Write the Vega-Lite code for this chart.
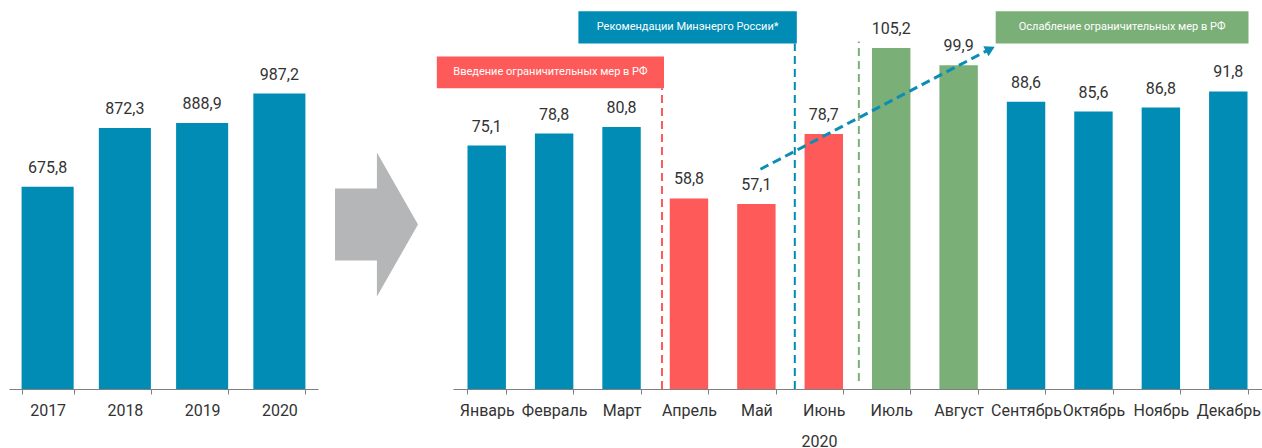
{
  "$schema": "https://vega.github.io/schema/vega-lite/v6.json",
  "padding": {"left": 9, "top": 0, "right": 0, "bottom": 0},
  "bounds": "flush",
  "spacing": 0,
  "config": {
    "view": {"stroke": null},
    "font": "Roboto, sans-serif",
    "locale": {"number": {"decimal": ",", "thousands": " ", "grouping": [3], "currency": ["", ""]}},
    "axisX": {
      "domainColor": "#808080",
      "tickColor": "#808080",
      "tickSize": 5,
      "labelFontSize": 16,
      "labelColor": "#333333",
      "labelPadding": 8,
      "labelAngle": 0,
      "tickBand": "extent",
      "grid": false,
      "titleFontSize": 16,
      "titleFontWeight": "normal",
      "titleColor": "#333333"
    }
  },
  "datasets": {
    "years": [
      {"year": "2017", "value": 675.8},
      {"year": "2018", "value": 872.3},
      {"year": "2019", "value": 888.9},
      {"year": "2020", "value": 987.2}
    ],
    "months": [
      {"month": "Январь", "value": 75.1, "group": "base"},
      {"month": "Февраль", "value": 78.8, "group": "base"},
      {"month": "Март", "value": 80.8, "group": "base"},
      {"month": "Апрель", "value": 58.8, "group": "restrict"},
      {"month": "Май", "value": 57.1, "group": "restrict"},
      {"month": "Июнь", "value": 78.7, "group": "restrict"},
      {"month": "Июль", "value": 105.2, "group": "ease"},
      {"month": "Август", "value": 99.9, "group": "ease"},
      {"month": "Сентябрь", "value": 88.6, "group": "base"},
      {"month": "Октябрь", "value": 85.6, "group": "base"},
      {"month": "Ноябрь", "value": 86.8, "group": "base"},
      {"month": "Декабрь", "value": 91.8, "group": "base"}
    ],
    "vlines": [
      {"x": 3.1, "y1": 0, "y2": 92.8, "group": "restrict"},
      {"x": 5.07, "y1": 0, "y2": 106.6, "group": "base"},
      {"x": 6.02, "y1": 2.5, "y2": 107.2, "group": "ease"}
    ],
    "boxes": [
      {"x1": -0.24, "x2": 3.13, "y1": 92.8, "y2": 102.6, "xm": 1.445, "ym": 97.7, "group": "restrict", "text": "Введение ограничительных мер в РФ"},
      {"x1": 1.86, "x2": 5.1, "y1": 106.6, "y2": 116.5, "xm": 3.48, "ym": 111.55, "group": "base", "text": "Рекомендации Минэнерго России*"},
      {"x1": 8.05, "x2": 11.8, "y1": 106.6, "y2": 116.5, "xm": 9.925, "ym": 111.55, "group": "ease", "text": "Ослабление ограничительных мер в РФ"}
    ],
    "arrow": [
      {"x": 4.56, "y": 67.8},
      {"x": 7.97, "y": 104.9}
    ],
    "arrowhead": [
      {"x": 7.97, "y": 104.9}
    ]
  },
  "hconcat": [
    {
      "width": 309,
      "height": 389,
      "data": {"name": "years"},
      "encoding": {
        "x": {"field": "year", "type": "ordinal", "scale": {"paddingInner": 0.326, "paddingOuter": 0.163}, "axis": {"title": null}},
        "y": {"field": "value", "type": "quantitative", "scale": {"domain": [0, 1300]}, "axis": null}
      },
      "layer": [
        {"mark": {"type": "bar", "color": "#008CB4"}},
        {"mark": {"type": "text", "dy": -14, "baseline": "alphabetic", "fontSize": 16, "color": "#333333"},
         "encoding": {"text": {"field": "value", "type": "quantitative", "format": ".1f"}}}
      ]
    },
    {
      "width": 135,
      "height": 389,
      "data": {"values": [{"item": "arrow"}]},
      "mark": {
        "type": "point",
        "shape": "M-1,-0.867L0.01,-0.867L0.01,-1.735L1,0L0.01,1.735L0.01,0.867L-1,0.867Z",
        "size": 6889,
        "filled": true,
        "color": "#B5B6B8",
        "opacity": 1,
        "strokeWidth": 0,
        "xOffset": -9,
        "yOffset": 30
      },
      "encoding": {}
    },
    {
      "width": 809,
      "height": 389,
      "layer": [
        {
          "data": {"name": "months"},
          "encoding": {
            "x": {"field": "month", "type": "nominal", "sort": null, "scale": {"paddingInner": 0.43, "paddingOuter": 0.215},
                  "axis": {"title": "2020", "titleX": 366, "titleY": 57, "titleBaseline": "alphabetic", "titleAnchor": null, "titleAlign": "center"}},
            "y": {"field": "value", "type": "quantitative", "scale": {"domain": [0, 120]}, "axis": null}
          },
          "layer": [
            {"mark": {"type": "bar"},
             "encoding": {"color": {"field": "group", "type": "nominal", "scale": {"domain": ["base", "restrict", "ease"], "range": ["#008CB4", "#FF5A5A", "#7BAF78"]}, "legend": null}}},
            {"mark": {"type": "text", "dy": -14, "baseline": "alphabetic", "fontSize": 16, "color": "#333333"},
             "encoding": {"text": {"field": "value", "type": "quantitative", "format": ".1f"}}}
          ]
        },
        {
          "data": {"name": "vlines"},
          "mark": {"type": "rule", "strokeDash": [8, 5], "strokeWidth": 2},
          "encoding": {
            "x": {"field": "x", "type": "quantitative", "scale": {"domain": [0, 12], "nice": false, "zero": false}, "axis": null},
            "y": {"field": "y1", "type": "quantitative", "scale": {"domain": [0, 120]}, "axis": null},
            "y2": {"field": "y2"},
            "color": {"field": "group", "type": "nominal", "scale": {"domain": ["base", "restrict", "ease"], "range": ["#008CB4", "#FF5A5A", "#7BAF78"]}, "legend": null}
          }
        },
        {
          "data": {"name": "boxes"},
          "layer": [
            {
              "mark": {"type": "rect"},
              "encoding": {
                "x": {"field": "x1", "type": "quantitative", "scale": {"domain": [0, 12], "nice": false, "zero": false}, "axis": null},
                "x2": {"field": "x2"},
                "y": {"field": "y1", "type": "quantitative", "scale": {"domain": [0, 120]}, "axis": null},
                "y2": {"field": "y2"},
                "color": {"field": "group", "type": "nominal", "scale": {"domain": ["base", "restrict", "ease"], "range": ["#008CB4", "#FF5A5A", "#7BAF78"]}, "legend": null}
              }
            },
            {
              "mark": {"type": "text", "color": "#FFFFFF", "fontSize": 11, "baseline": "middle", "align": "center"},
              "encoding": {
                "x": {"field": "xm", "type": "quantitative", "scale": {"domain": [0, 12], "nice": false, "zero": false}, "axis": null},
                "y": {"field": "ym", "type": "quantitative", "scale": {"domain": [0, 120]}, "axis": null},
                "text": {"field": "text"}
              }
            }
          ],
          "resolve": {"scale": {"x": "shared"}}
        },
        {
          "data": {"name": "arrow"},
          "mark": {"type": "line", "strokeDash": [9, 5], "strokeWidth": 3, "color": "#0B8DB5"},
          "encoding": {
            "x": {"field": "x", "type": "quantitative", "scale": {"domain": [0, 12], "nice": false, "zero": false}, "axis": null},
            "y": {"field": "y", "type": "quantitative", "scale": {"domain": [0, 120]}, "axis": null}
          }
        },
        {
          "data": {"name": "arrowhead"},
          "mark": {"type": "point", "shape": "triangle-right", "filled": true, "size": 130, "angle": -27.6, "color": "#0B8DB5", "opacity": 1},
          "encoding": {
            "x": {"field": "x", "type": "quantitative", "scale": {"domain": [0, 12], "nice": false, "zero": false}, "axis": null},
            "y": {"field": "y", "type": "quantitative", "scale": {"domain": [0, 120]}, "axis": null}
          }
        }
      ],
      "resolve": {"scale": {"x": "independent"}}
    }
  ]
}
